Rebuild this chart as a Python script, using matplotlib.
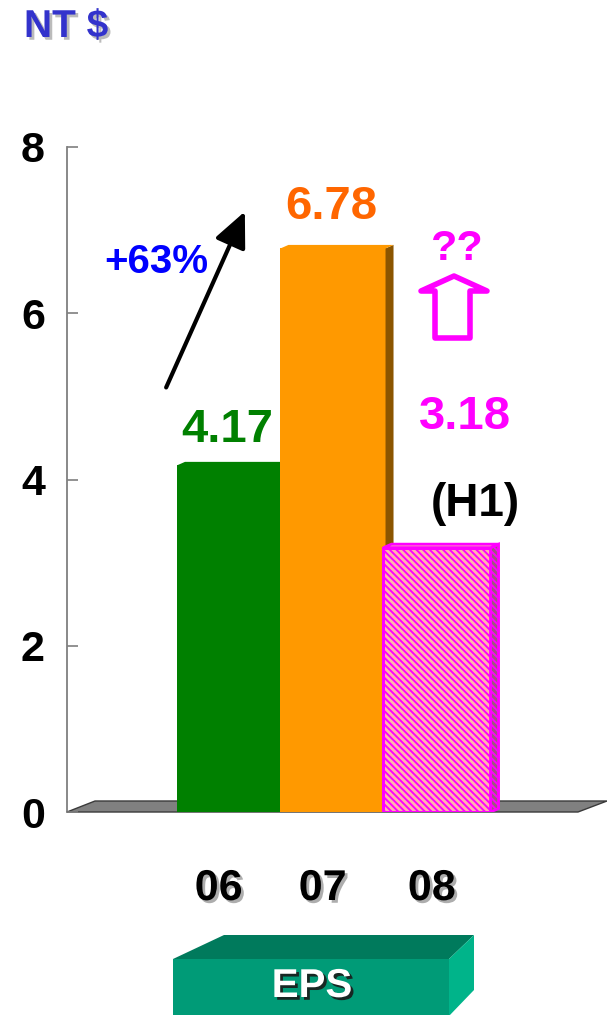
import matplotlib
matplotlib.use('Agg')
import matplotlib.pyplot as plt
from matplotlib.patches import Polygon, FancyArrowPatch, ArrowStyle
import matplotlib.patheffects as pe

# ---- data ----
categories = ['06', '07', '08']
eps = [4.17, 6.78, 3.18]
value_labels = ['4.17', '6.78', '3.18']
yticks = [0, 2, 4, 6, 8]
growth_label = '+63%'
unit_label = 'NT $'
box_label = 'EPS'
h1_label = '(H1)'
q_label = '??'

plt.rcParams['font.family'] = ['Liberation Sans', 'DejaVu Sans']
plt.rcParams['hatch.linewidth'] = 1.4

W, H = 607, 1015
fig = plt.figure(figsize=(W / 100, H / 100), dpi=100)


def F(x, y):
    return (x / W, 1 - y / H)


x0px, x1px = 67, 607
y0px, y8px = 812, 147
ax = fig.add_axes([x0px / W, 1 - y0px / H, (x1px - x0px) / W, (y0px - y8px) / H])
ppx = 104.0
c0 = 229.0
ax.set_xlim((x0px - c0) / ppx, (x1px - c0) / ppx)
ax.set_ylim(0, 8)
ax.patch.set_alpha(0)
for s in ['top', 'right', 'bottom']:
    ax.spines[s].set_visible(False)
ax.spines['left'].set_color('#7f7f7f')
ax.spines['left'].set_linewidth(1.3)
ax.spines['left'].set_zorder(0.5)
ax.set_yticks(yticks)
ax.set_yticklabels([str(t) for t in yticks], fontsize=31, fontweight='bold')
ax.tick_params(axis='y', direction='in', length=8, width=1.2, color='#7f7f7f', pad=16)
ax.set_xticks([])

dyu = 8.0 / (y0px - y8px)  # data units per pixel (y)
dxu = 1.0 / ppx            # data units per pixel (x)


def P(px, py):
    return ((px - c0) * dxu, (y0px - py) * dyu)


xl = ax.get_xlim()[0]
# floor
floor = Polygon([(xl, 0), (xl + 511 * dxu, 0), (xl + 540 * dxu, 11 * dyu), (xl + 28 * dxu, 11 * dyu)],
                closed=True, facecolor='#808080', edgecolor='#3a3a3a', lw=1.0, zorder=1, clip_on=False)
ax.add_patch(floor)

ddx = 8 * dxu
ddy = 3.5 * dyu
widths = [1.0, 1.01, 1.03]
face = ['#008000', '#FF9900', '#FFB8A8']
side = ['#004d00', '#8B5500', '#9a5a7a']
hatch = '\\\\\\\\\\'
for i, v in enumerate(eps):
    w = widths[i]
    z = 2 + i
    if i == 2:
        ax.bar(i, v, width=w, facecolor=face[i], edgecolor='#FF00FF', hatch=hatch, lw=2.2, zorder=z)
        sp = Polygon([(i + w / 2, 0), (i + w / 2, v), (i + w / 2 + ddx, v + ddy), (i + w / 2 + ddx, ddy)],
                     facecolor=side[i], edgecolor='#FF00FF', hatch=hatch, lw=2.0, zorder=z)
        tp = Polygon([(i - w / 2, v), (i - w / 2 + ddx, v + ddy), (i + w / 2 + ddx, v + ddy), (i + w / 2, v)],
                     facecolor=face[i], edgecolor='#FF00FF', lw=2.0, zorder=z)
    else:
        ax.bar(i, v, width=w, color=face[i], zorder=z)
        sp = Polygon([(i + w / 2, 0), (i + w / 2, v), (i + w / 2 + ddx, v + ddy), (i + w / 2 + ddx, ddy)],
                     facecolor=side[i], edgecolor='none', zorder=z)
        tp = Polygon([(i - w / 2, v), (i - w / 2 + ddx, v + ddy), (i + w / 2 + ddx, v + ddy), (i + w / 2, v)],
                     facecolor=face[i], edgecolor='none', zorder=z)
    ax.add_patch(sp)
    ax.add_patch(tp)

# value labels
ax.text(0 - 0.02, eps[0] + 0.43, value_labels[0], color='#008000', fontsize=34, fontweight='bold',
        ha='center', va='center', zorder=10)
ax.text(1 - 0.02, eps[1] + 0.5, value_labels[1], color='#FF6600', fontsize=34, fontweight='bold',
        ha='center', va='center', zorder=10)
ax.text(*P(465, 417), value_labels[2], color='#FF00FF', fontsize=34, fontweight='bold',
        ha='center', va='center', zorder=10)
ax.text(*P(475, 504), h1_label, color='black', fontsize=33, fontweight='bold',
        ha='center', va='center', zorder=10)
ax.text(*P(457, 249), q_label, color='#FF00FF', fontsize=31, fontweight='bold',
        ha='center', va='center', zorder=10)
ax.text(*P(156, 262), growth_label, color='#0000FF', fontsize=29, fontweight='bold',
        ha='center', va='center', zorder=10)

# growth arrow
arr = FancyArrowPatch(P(165, 390), P(246, 209), arrowstyle=ArrowStyle('-|>', head_length=1.2, head_width=0.55),
                      mutation_scale=18, lw=3, color='black', zorder=10, clip_on=False)
ax.add_patch(arr)

# hollow up arrow
up = Polygon([P(454, 276), P(487, 291), P(470, 291), P(470, 338), P(435, 338), P(435, 291), P(421, 291)],
             closed=True, fill=False, edgecolor='#FF00FF', lw=4, joinstyle='round', zorder=10, clip_on=False)
ax.add_patch(up)

# category labels with shadow
shadow = [pe.SimplePatchShadow(offset=(2, -2), shadow_rgbFace='#999999', alpha=0.8), pe.Normal()]
cat_off = [-0.1, -0.1, -0.05]
for i, c in enumerate(categories):
    ax.text(i + cat_off[i], (y0px - 889) * dyu, c, fontsize=31, fontweight='bold', color='black',
            ha='center', va='center', clip_on=False, path_effects=shadow)

# unit label
fig.text(*F(66, 27), unit_label, fontsize=28, fontweight='bold', color='#3333CC', ha='center', va='center',
         path_effects=[pe.SimplePatchShadow(offset=(2, -2), shadow_rgbFace='#aaaaaa', alpha=0.8), pe.Normal()])

# EPS box
fig.patches.append(Polygon([F(173, 959), F(449, 959), F(449, 1016), F(173, 1016)], closed=True,
                           facecolor='#009B77', edgecolor='none', transform=fig.transFigure))
fig.patches.append(Polygon([F(173, 959), F(224, 935), F(474, 935), F(449, 959)], closed=True,
                           facecolor='#007A5C', edgecolor='none', transform=fig.transFigure))
fig.patches.append(Polygon([F(449, 959), F(474, 935), F(474, 990), F(449, 1016)], closed=True,
                           facecolor='#00B48A', edgecolor='none', transform=fig.transFigure))
fig.text(*F(312, 986), box_label, fontsize=29, fontweight='bold', color='white', ha='center', va='center',
         path_effects=[pe.SimplePatchShadow(offset=(2, -2), shadow_rgbFace='#1a1a1a', alpha=0.9), pe.Normal()])

fig.savefig('out.png', dpi=100)
